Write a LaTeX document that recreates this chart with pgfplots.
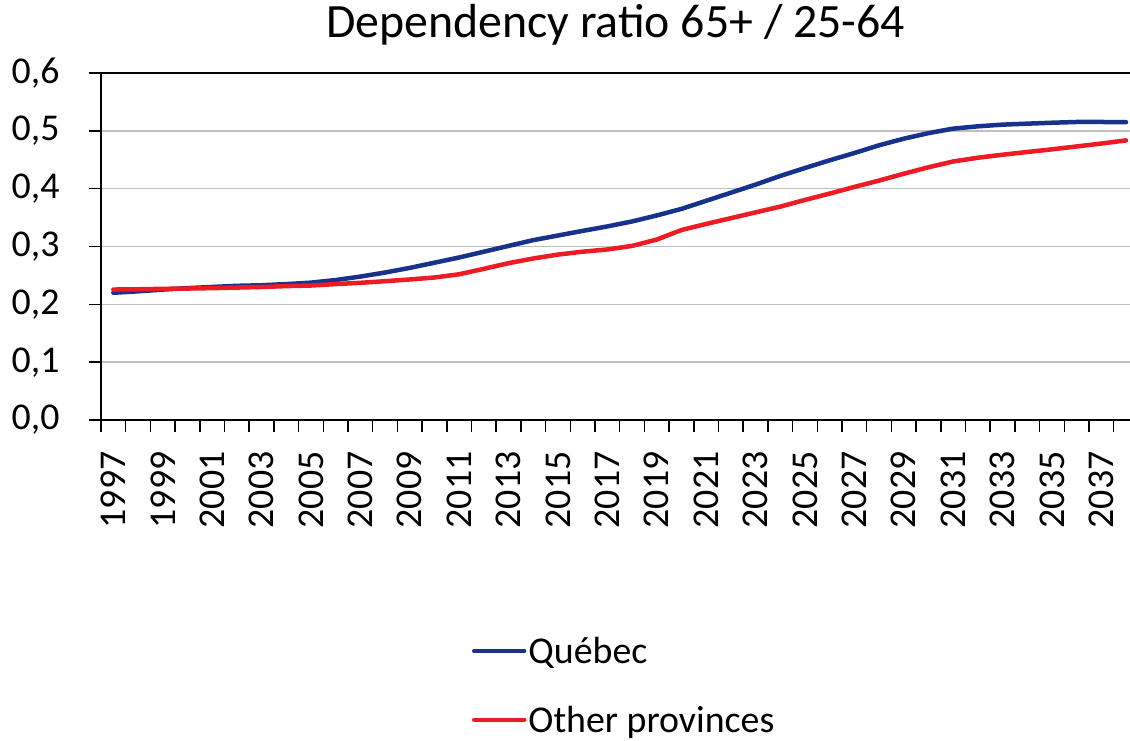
\documentclass[border=0pt]{standalone}
\usepackage{pgfplots}
\pgfplotsset{compat=1.18}
\usepackage{pgfplotstable}
\usepackage{fontspec}
\setmainfont{Carlito}
\definecolor{qblue}{RGB}{24,50,140}
\definecolor{ored}{RGB}{237,28,36}
\definecolor{gridgray}{RGB}{191,191,191}

\pgfplotstableread{
year val
1997 0.220
1998 0.2225
1999 0.2255
2000 0.228
2001 0.230
2002 0.232
2003 0.233
2004 0.235
2005 0.2375
2006 0.242
2007 0.248
2008 0.255
2009 0.263
2010 0.272
2011 0.281
2012 0.291
2013 0.301
2014 0.311
2015 0.319
2016 0.327
2017 0.3347
2018 0.3433
2019 0.3537
2020 0.365
2021 0.379
2022 0.393
2023 0.407
2024 0.422
2025 0.4357
2026 0.449
2027 0.4616
2028 0.475
2029 0.4864
2030 0.496
2031 0.5038
2032 0.5078
2033 0.5107
2034 0.5124
2035 0.514
2036 0.5153
2037 0.5153
2038 0.515
}\quebec

\pgfplotstableread{
year val
1997 0.2256
1998 0.226
1999 0.2268
2000 0.2273
2001 0.228
2002 0.229
2003 0.230
2004 0.2315
2005 0.2325
2006 0.235
2007 0.2372
2008 0.240
2009 0.243
2010 0.2464
2011 0.252
2012 0.2614
2013 0.2712
2014 0.2793
2015 0.286
2016 0.291
2017 0.2949
2018 0.301
2019 0.312
2020 0.3285
2021 0.339
2022 0.349
2023 0.359
2024 0.369
2025 0.3805
2026 0.3915
2027 0.403
2028 0.414
2029 0.4258
2030 0.437
2031 0.447
2032 0.4535
2033 0.4587
2034 0.4634
2035 0.468
2036 0.473
2037 0.478
2038 0.4835
}\others

\begin{document}
\begin{tikzpicture}
\begin{axis}[
  scale only axis,
  width=1029bp, height=347bp,
  xmin=1996.5, xmax=2038.16,
  ymin=0, ymax=0.6,
  axis lines*=left,
  axis line style={-, black, line width=2bp},
  tick align=outside,
  xtick={1997,1999,...,2037},
  minor xtick={1996.5,1997.5,...,2037.5},
  major x tick style={draw=none},
  minor x tick style={draw=black, line width=1.5bp},
  major tick length=12bp,
  minor tick length=12bp,
  ytick={0,0.1,...,0.6},
  y tick style={black, line width=1.5bp},
  ymajorgrids,
  grid style={gridgray, line width=1.5bp},
  /pgf/number format/assume math mode=true,
  x tick label style={rotate=90, anchor=east, xshift=-16bp, font=\fontsize{38}{40}\selectfont,
    /pgf/number format/.cd, 1000 sep={}, fixed, precision=0},
  y tick label style={xshift=-26bp, font=\fontsize{38}{40}\selectfont,
    /pgf/number format/.cd, fixed, fixed zerofill, precision=1, use comma},
  title={Dependency ratio 65+ / 25-64},
  title style={at={(0.5,1)}, anchor=base, yshift=30bp, font=\fontsize{48}{52}\selectfont, inner sep=0pt},
  legend style={at={(0.3605,-0.62)}, anchor=north west, draw=none, fill=none,
    font=\fontsize{38}{40}\selectfont, row sep=37bp, inner sep=0pt, outer sep=0pt,
    /tikz/every even column/.append style={column sep=0pt}},
  legend cell align=left,
  legend image code/.code={\draw[#1, line width=4.5bp, line cap=round] (0bp,0bp) -- (50bp,0bp);},
]
\addplot[qblue, line width=4.5bp, line cap=round, line join=round] table[x=year, y=val] {\quebec};
\addlegendentry{Québec}
\addplot[ored, line width=4.5bp, line cap=round, line join=round] table[x=year, y=val] {\others};
\addlegendentry{Other provinces}
\draw[black, line width=2bp] (rel axis cs:0,1) -- (rel axis cs:1,1);
\coordinate (bl) at (rel axis cs:0,0);
\coordinate (tr) at (rel axis cs:1,1);
\end{axis}
\pgfresetboundingbox
\path ([shift={(-101bp,-320bp)}]bl) rectangle ([shift={(0bp,73bp)}]tr);
\end{tikzpicture}
\end{document}
